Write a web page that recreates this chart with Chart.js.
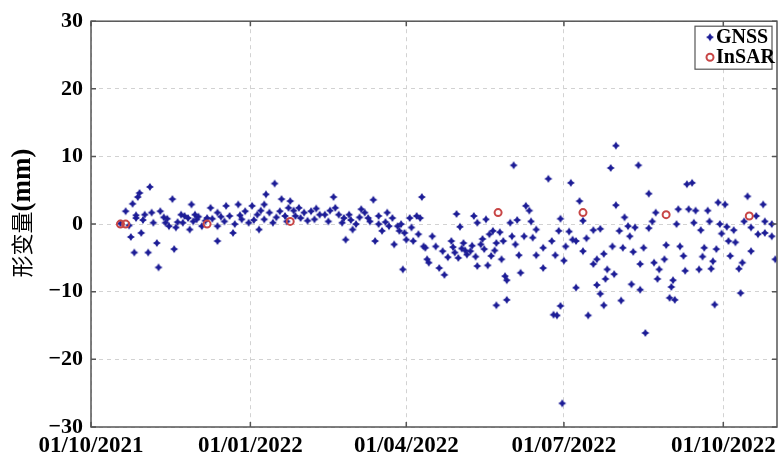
<!DOCTYPE html>
<html>
<head>
<meta charset="utf-8">
<script src="https://cdn.jsdelivr.net/npm/chart.js@4"></script>
<style>
  html, body { margin: 0; padding: 0; background: #fff; }
</style>
</head>
<body>
<canvas id="deformChart" width="783" height="460"></canvas>
<script>
// x = days since 01/10/2021
const tickDays = [0, 92, 182, 273, 365];
const tickLabels = ['01/10/2021', '01/01/2022', '01/04/2022', '01/07/2022', '01/10/2022'];
const yTitle = ['形变量', '(mm)'];

// GNSS daily solutions (mm)
const gnssDays = [
  17, 20, 22, 23, 24, 25, 26, 26, 27, 28, 29, 30, 31, 33, 34, 35, 36, 38, 39, 40, 42, 43, 44, 45, 47, 48, 49, 50, 52, 53, 54, 56, 57, 58, 59, 60, 61, 62, 64, 66,
  67, 69, 70, 73, 73, 73, 75, 77, 78, 80, 82, 83, 85, 86, 87, 89, 91, 93, 94, 96, 97, 98, 100, 100, 101, 103, 105, 106, 107, 109, 110, 112, 113, 114, 115, 117, 118, 120, 121, 123, 125, 127, 129, 130, 132,
  135, 137, 138, 140, 141, 143, 145, 146, 147, 149, 150, 151, 153, 155, 156, 158, 160, 161, 163, 164, 166, 166, 168, 170, 171, 172, 174, 175, 177, 178, 179, 180, 181, 182, 184, 185, 186, 188, 189, 190, 191, 192, 193, 194, 195, 197, 199, 201,
  203, 204, 206, 208, 209, 210, 211, 212, 213, 214, 215, 216, 217, 219, 220, 221, 222, 223, 223, 225, 226, 227, 228, 229, 230, 231, 232, 233, 234, 234, 236, 237, 238, 239, 240, 240, 242, 243, 244, 245, 246, 247, 248, 250, 251, 253, 254, 255, 257, 257, 261, 261, 264, 266, 267,
  268, 269, 270, 271, 271, 272, 273, 274, 276, 277, 278, 280, 280, 282, 284, 284, 286, 287, 290, 290, 292, 292, 294, 294, 296, 296, 297, 298, 300, 301, 302, 303, 303, 305, 306, 307, 308, 310, 311, 312, 313, 314, 316, 317, 317, 319, 320, 322, 322, 324, 325, 326, 327, 328, 331,
  332, 334, 335, 336, 337, 338, 339, 340, 342, 343, 344, 345, 347, 348, 349, 351, 352, 353, 354, 356, 357, 358, 359, 360, 361, 362, 363, 364, 366, 367, 368, 369, 371, 372, 374, 375, 376, 377, 379, 381, 381, 384, 385, 388, 389, 389, 393, 393, 395
];
const gnssMm = [
  0.1, 1.9, -0.2, -1.9, 3.0, -4.2, 0.9, 1.3, 4.0, 4.6, -1.3, 0.6, 1.4, -4.2, 5.5, 1.7, 0.2, -2.8, -6.4, 1.9, 1.0, 0.2, 0.8, -0.3, 3.7, -3.7, -0.5, 0.3, 1.4, 0.2, 1.2, 0.9, -0.8, 2.9, 0.4, 1.4, 0.7, 1.1, -0.3, 0.5,
  0.9, 2.4, 0.8, 1.7, -0.3, -2.5, 1.1, 0.4, 2.7, 1.2, -1.3, 0.0, 2.9, 1.3, 0.7, 1.9, 0.2, 2.7, 0.6, 1.4, -0.8, 2.0, 0.7, 2.9, 4.4, 1.7, 0.2, 6.0, 1.0, 1.9, 3.7, 1.2, 0.4, 2.4, 3.4, 2.0, 1.2, 2.4, 0.9, 1.7, 0.5, 1.9, 0.7, 2.3, 1.4,
  1.4, 0.4, 2.0, 4.0, 2.4, 1.4, 0.2, 0.9, -2.3, 1.4, 0.6, -0.8, 0.0, 1.0, 2.2, 1.7, 0.9, 0.4, 3.6, -2.5, 1.2, 0.0, -1.0, 0.3, 1.7, -0.3, 0.9, -3.0, -0.3, -1.0, 0.0, -6.7, -1.3, -2.3, 0.9, -0.5, -2.5, 1.2, -1.5, 0.9, 4.0, -3.3, -3.5, -5.2, -5.7, -1.8, -3.3, -6.5,
  -4.0, -7.5, -4.9, -2.5, -3.4, -4.2, 1.5, -5.0, -0.4, -3.6, -2.8, -3.9, -4.5, -4.0, -3.2, 1.2, -4.8, 0.2, -6.2, -3.0, -2.2, -3.7, 0.7, -6.1, -1.5, -4.7, -1.0, -3.9, -2.8, -12.0, -1.2, -5.2, -2.5, -7.7, -8.3, -11.2, 0.2, -1.8, 8.7, -3.0, 0.6, -4.6, -7.2, -1.8, 2.7, 2.0, 0.4, -2.0, -0.8, -4.6, -3.5, -6.5, 6.7, -2.5, -13.4,
  -4.6, -13.5, -1.0, -12.1, 0.8, -26.5, -5.4, -3.3, -1.1, 6.1, -2.3, -2.5, -9.4, 3.4, 0.5, -4.0, -2.1, -13.5, -0.9, -5.9, -5.2, -9.0, -0.7, -10.3, -4.4, -12.0, -8.1, -6.7, 8.3, -3.3, -7.4, 11.6, 2.8, -1.0, -11.3, -3.5, 1.0, -0.3, -1.8, -8.9, -4.1, -0.5, 8.7, -5.9, -9.7, -3.5, -16.1, 4.5, -0.6, 0.4, -5.7, 1.7, -8.1, -6.7, -5.2,
  -3.1, -10.9, -9.3, -8.3, -11.2, 0.0, 2.2, -3.3, -4.7, -6.9, 5.9, 2.2, 6.1, 0.2, 2.0, -6.7, -0.9, -4.8, -3.5, 2.0, 0.4, -6.6, -5.5, -11.9, -3.7, 3.2, 0.0, -1.4, 2.9, -0.4, -2.5, -4.7, -0.9, -2.7, -6.6, -10.2, -5.7, 0.4, 4.1, -4.0, -0.5, 1.2, -1.5, 2.9, -1.3, 0.4, 0.0, -1.8, -5.2
];

// InSAR epochs (mm)
const insarDays = [17, 20, 67, 115, 235, 284, 332, 380];
const insarMm = [0.0, 0.0, 0.0, 0.4, 1.7, 1.7, 1.4, 1.2];

const serif = "'Liberation Serif', 'Times New Roman', serif";
const frameColor = '#555';

// four-point star marker like the GNSS symbols
function makeStar(color, r) {
  const c = document.createElement('canvas');
  const s = r * 2 + 2;
  c.width = s; c.height = s;
  const g = c.getContext('2d');
  const m = s / 2, k = r * 0.4;
  g.fillStyle = color;
  g.beginPath();
  g.moveTo(m, m - r); g.lineTo(m + k, m - k); g.lineTo(m + r, m);
  g.lineTo(m + k, m + k); g.lineTo(m, m + r); g.lineTo(m - k, m + k);
  g.lineTo(m - r, m); g.lineTo(m - k, m - k);
  g.closePath();
  g.fill();
  return c;
}
const gnssMarker = makeStar('#1c1c96', 4);

// box around the plot with inward ticks, the y title and the legend inside the box
const framePlugin = {
  id: 'frame',
  afterDraw(chart) {
    const { ctx, chartArea: a, scales } = chart;
    ctx.save();
    ctx.strokeStyle = frameColor;
    ctx.lineWidth = 1.5;
    ctx.strokeRect(a.left, a.top, a.right - a.left, a.bottom - a.top);
    ctx.beginPath();
    scales.y.ticks.forEach(t => {
      const y = scales.y.getPixelForValue(t.value);
      ctx.moveTo(a.left, y); ctx.lineTo(a.left + 5, y);
      ctx.moveTo(a.right, y); ctx.lineTo(a.right - 5, y);
    });
    tickDays.forEach(d => {
      const x = scales.x.getPixelForValue(d);
      ctx.moveTo(x, a.bottom); ctx.lineTo(x, a.bottom - 5);
      ctx.moveTo(x, a.top); ctx.lineTo(x, a.top + 5);
    });
    ctx.stroke();

    // y title: CJK part regular, unit in bold serif
    ctx.save();
    ctx.translate(22, 213);
    ctx.rotate(-Math.PI / 2);
    ctx.fillStyle = '#000';
    ctx.textBaseline = 'middle';
    const f1 = "22px 'Noto Sans CJK SC', sans-serif";
    const f2 = 'bold 27px ' + serif;
    ctx.font = f1; const w1 = ctx.measureText(yTitle[0]).width;
    ctx.font = f2; const w2 = ctx.measureText(yTitle[1]).width;
    let x0 = -(w1 + w2) / 2;
    ctx.font = f1; ctx.fillText(yTitle[0], x0, 0);
    ctx.font = f2; ctx.fillText(yTitle[1], x0 + w1, 1);
    ctx.restore();

    // legend
    const bx = a.right - 82, by = a.top + 5, bw = 77, bh = 43;
    ctx.fillStyle = '#fff';
    ctx.fillRect(bx, by, bw, bh);
    ctx.lineWidth = 1.2;
    ctx.strokeRect(bx, by, bw, bh);
    ctx.font = 'bold 20px ' + serif;
    ctx.textBaseline = 'middle';
    ctx.fillStyle = '#000';
    ctx.drawImage(gnssMarker, bx + 10, by + 11 - 5, 10, 10);
    ctx.fillText('GNSS', bx + 21, by + 12);
    ctx.beginPath();
    ctx.arc(bx + 15, by + 31, 3.5, 0, Math.PI * 2);
    ctx.strokeStyle = '#c84646';
    ctx.lineWidth = 2;
    ctx.stroke();
    ctx.fillText('InSAR', bx + 21, by + 32);
    ctx.restore();
  }
};

new Chart(document.getElementById('deformChart').getContext('2d'), {
  type: 'scatter',
  data: {
    datasets: [
      {
        label: 'GNSS',
        data: gnssDays.map((d, i) => ({ x: d, y: gnssMm[i] })),
        pointStyle: gnssMarker,
        order: 2
      },
      {
        label: 'InSAR',
        data: insarDays.map((d, i) => ({ x: d, y: insarMm[i] })),
        pointStyle: 'circle',
        pointRadius: 3.5,
        borderColor: '#c84646',
        backgroundColor: 'rgba(255,255,255,0)',
        borderWidth: 2,
        order: 1
      }
    ]
  },
  options: {
    responsive: false,
    animation: false,
    layout: { padding: { top: 21, right: 3, left: 0, bottom: 0 } },
    plugins: { legend: { display: false }, tooltip: { enabled: false } },
    scales: {
      x: {
        type: 'linear',
        min: 0,
        max: 396,
        afterBuildTicks: s => { s.ticks = tickDays.map(v => ({ value: v })); },
        afterFit: s => { s.height = 33; },
        grid: { color: '#d2d2d2', drawTicks: false },
        border: { display: false, dash: [4, 4] },
        ticks: {
          padding: 5,
          color: '#000',
          font: { family: serif, weight: 'bold', size: 23 },
          maxRotation: 0,
          autoSkip: false,
          callback: v => tickLabels[tickDays.indexOf(v)]
        }
      },
      y: {
        min: -30,
        max: 30,
        afterFit: s => { s.width = 91; },
        grid: { color: '#d2d2d2', drawTicks: false },
        border: { display: false, dash: [4, 4] },
        ticks: {
          stepSize: 10,
          padding: 8,
          color: '#000',
          font: { family: serif, weight: 'bold', size: 22 },
          callback: v => String(v).replace('-', '\u2212')
        }
      }
    }
  },
  plugins: [framePlugin]
});
</script>
</body>
</html>
